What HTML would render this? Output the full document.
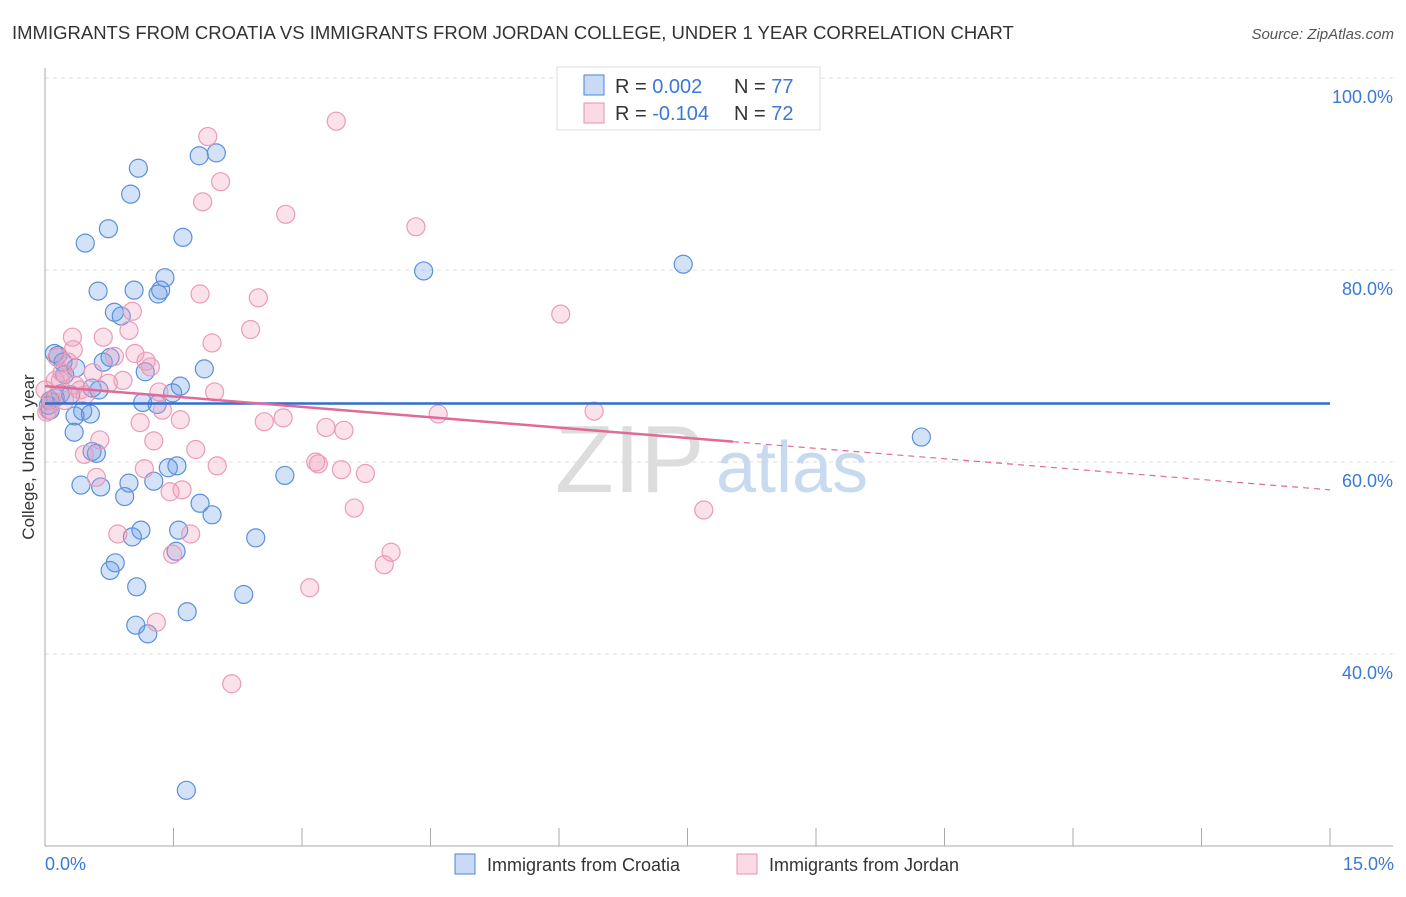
<!DOCTYPE html>
<html><head><meta charset="utf-8"><style>
body{margin:0;background:#fff;font-family:"Liberation Sans",sans-serif;}
svg text{font-family:"Liberation Sans",sans-serif;}
</style></head><body>
<svg width="1406" height="892" viewBox="0 0 1406 892" xmlns="http://www.w3.org/2000/svg">
<text x="12" y="39" font-size="18.5" fill="#333">IMMIGRANTS FROM CROATIA VS IMMIGRANTS FROM JORDAN COLLEGE, UNDER 1 YEAR CORRELATION CHART</text>
<text x="1394" y="39" font-size="15" fill="#555" font-style="italic" text-anchor="end">Source: ZipAtlas.com</text>
<g id="grid"></g>
<g id="axes"></g>
<text x="555" y="492" font-size="96" fill="#ddd" font-family="Liberation Serif">ZIP</text>
<text x="716" y="492" font-size="72" fill="#c8daf0">atlas</text>
<g id="pts"></g>
<g id="trend"></g>
<g>
<rect x="557" y="67" width="263" height="63" fill="#fff" stroke="#ddd"/>
<rect x="584" y="75" width="20" height="20" fill="rgba(100,150,230,0.35)" stroke="#4a85d6"/>
<rect x="584" y="103" width="20" height="20" fill="rgba(240,150,180,0.35)" stroke="#e890b0"/>
<text x="615" y="93" font-size="20" fill="#333">R = <tspan fill="#3b78d8">0.002</tspan><tspan x="734">N = </tspan><tspan fill="#3b78d8">77</tspan></text>
<text x="615" y="120" font-size="20" fill="#333">R = <tspan fill="#3b78d8">-0.104</tspan><tspan x="734">N = </tspan><tspan fill="#3b78d8">72</tspan></text>
</g>
<text transform="translate(34,457) rotate(-90)" font-size="17" fill="#333" text-anchor="middle">College, Under 1 year</text>
<text x="45" y="870" font-size="18" fill="#3b78d8">0.0%</text>
<text x="1394" y="870" font-size="18" fill="#3b78d8" text-anchor="end">15.0%</text>
<g><rect x="455" y="854" width="20" height="20" fill="rgba(100,150,230,0.35)" stroke="#4a85d6"/><text x="487" y="871" font-size="18" fill="#333">Immigrants from Croatia</text></g>
<g><rect x="737" y="854" width="20" height="20" fill="rgba(240,150,180,0.35)" stroke="#e890b0"/><text x="769" y="871" font-size="18" fill="#333">Immigrants from Jordan</text></g>
</svg>
<script>
const yTicks=[40,60,80,100];
const yTickLabels=["40.0%","60.0%","80.0%","100.0%"];
const xTicks=[0,1.5,3,4.5,6,7.5,9,10.5,12,13.5,15];
const croatiaX=[1.09,1.00,1.80,2.00,0.47,0.74,1.61,4.42,7.45,0.62,1.04,1.40,1.32,1.35,0.81,0.89,0.11,0.15,0.21,0.68,0.76,1.86,1.17,0.23,0.36,0.55,0.63,1.58,1.49,1.14,1.31,0.04,0.12,0.44,0.53,0.35,0.34,0.55,0.60,10.23,2.80,1.44,1.54,1.27,0.98,0.42,0.65,0.93,1.81,1.95,1.12,1.02,1.56,2.46,0.82,0.76,1.53,1.07,2.32,1.66,1.06,1.20,1.65,0.06,0.18,0.30,0.06];
const croatiaY=[90.6,87.9,91.9,92.2,82.8,84.3,83.4,79.9,80.6,77.8,77.9,79.2,77.5,77.9,75.6,75.2,71.3,71.1,70.4,70.4,70.9,69.7,69.4,69.1,69.8,67.7,67.5,67.9,67.2,66.2,66.0,65.9,66.7,65.3,65.0,64.8,63.1,61.1,60.9,62.6,58.6,59.4,59.6,58.0,57.8,57.6,57.4,56.4,55.7,54.5,52.9,52.2,52.9,52.1,49.5,48.7,50.7,47.0,46.2,44.4,43.0,42.1,25.8,66.4,67.1,67.0,65.4];
const jordanX=[3.40,1.90,2.05,1.84,2.81,4.33,6.02,1.81,2.49,1.02,2.40,0.98,1.95,0.32,0.68,1.05,1.18,0.81,1.23,0.14,0.33,0.56,0.91,0.41,0.18,0.74,1.98,1.33,1.37,1.58,1.11,2.56,2.78,4.59,6.41,3.28,3.49,0.64,0.46,1.27,1.76,2.01,3.16,3.19,3.46,3.74,0.60,1.16,1.60,1.46,3.61,7.69,0.85,1.70,1.49,4.04,3.96,3.09,1.30,2.18,0.04,0.08,0.12,0.20,0.27,0.0,0.35,0.47,0.02,0.23];
const jordanY=[95.5,93.9,89.2,87.1,85.8,84.5,75.4,77.5,77.1,75.7,73.8,73.7,72.4,73.0,73.0,71.3,70.5,71.0,69.9,70.9,71.7,69.3,68.5,67.5,68.5,68.2,67.3,67.3,65.4,64.4,64.1,64.2,64.6,65.0,65.3,63.6,63.3,62.3,60.8,62.2,61.3,59.6,60.0,59.8,59.2,58.8,58.4,59.3,57.1,56.9,55.2,55.0,52.5,52.5,50.4,50.6,49.3,46.9,43.3,36.9,65.4,66.4,68.5,69.3,70.4,67.5,68.0,67.0,65.2,66.4];
const croatiaTrend=[66.1,66.1];
const jordanTrend=[67.9,57.1];
const jordanSolidEnd=8.03;
const NS="http://www.w3.org/2000/svg";
const X=v=>45+v/15*1285;
const Y=v=>78+(100-v)/20*192;
function mk(tag,attrs,parent){const e=document.createElementNS(NS,tag);for(const k in attrs)e.setAttribute(k,attrs[k]);parent.appendChild(e);return e;}
const grid=document.getElementById('grid'),axes=document.getElementById('axes');
yTicks.forEach((t,i)=>{
 const l=mk('line',{x1:45,x2:1393,y1:Y(t),y2:Y(t),stroke:'#ddd','stroke-dasharray':'4,4'},grid);
 
 
 const tx=mk('text',{x:1393,y:Y(t)+25,'font-size':18,fill:'#3b78d8','text-anchor':'end'},axes);
 tx.textContent=yTickLabels[i];
 
 
});
const xl=mk('line',{x1:45,x2:1393,y1:846,y2:846,stroke:'#aaa'},axes);


const yl=mk('line',{x1:45,x2:45,y1:68,y2:846,stroke:'#aaa'},axes);


xTicks.forEach(t=>{
 const k=mk('line',{x1:X(t),x2:X(t),y1:828,y2:846,stroke:'#aaa'},axes);
 
 
});
const pts=document.getElementById('pts');
croatiaX.forEach((x,i)=>{
 const c=mk('circle',{cx:X(x),cy:Y(croatiaY[i]),r:9,fill:'rgba(100,150,230,0.28)',stroke:'#5a90dc','stroke-width':1.2},pts);
 
 
});
jordanX.forEach((x,i)=>{
 const c=mk('circle',{cx:X(x),cy:Y(jordanY[i]),r:9,fill:'rgba(240,150,180,0.28)',stroke:'#eb9ab8','stroke-width':1.2},pts);
 
 
});
const tr=document.getElementById('trend');
const b=mk('line',{x1:X(0),x2:X(15),y1:Y(croatiaTrend[0]),y2:Y(croatiaTrend[1]),stroke:'#2f6fd0','stroke-width':2.5},tr);


const jy=x=>jordanTrend[0]+(jordanTrend[1]-jordanTrend[0])*x/15;
const p1=mk('line',{x1:X(0),x2:X(jordanSolidEnd),y1:Y(jy(0)),y2:Y(jy(jordanSolidEnd)),stroke:'#e06a98','stroke-width':2.5},tr);


const p2=mk('line',{x1:X(jordanSolidEnd),x2:X(15),y1:Y(jy(jordanSolidEnd)),y2:Y(jy(15)),stroke:'#e06a98','stroke-width':1.2,'stroke-dasharray':'6,5'},tr);


</script>
</body></html>
